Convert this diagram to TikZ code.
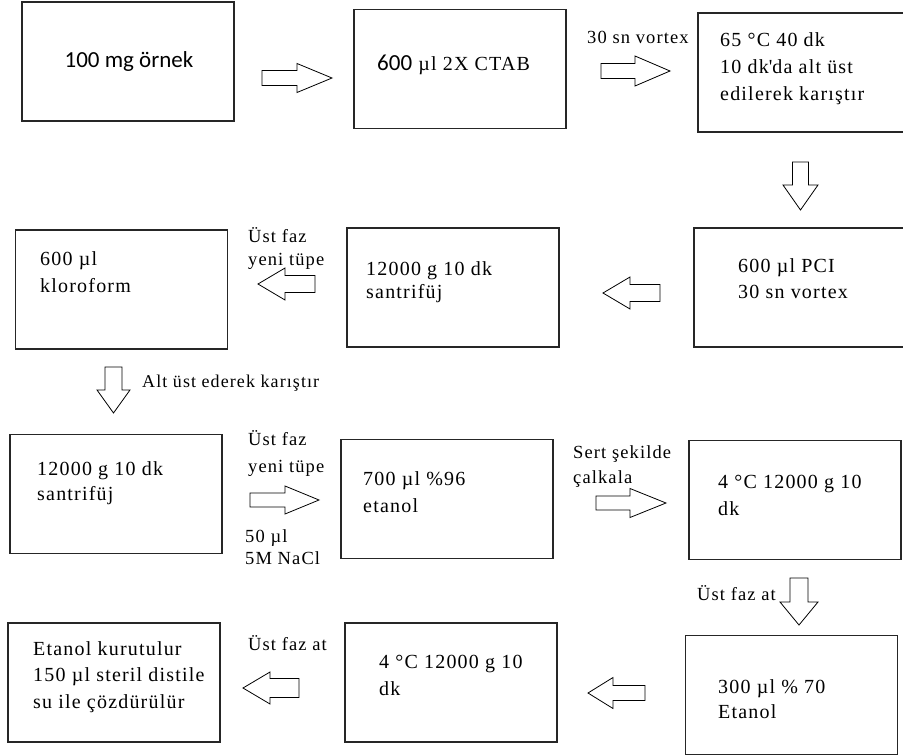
\documentclass[tikz,border=0pt]{standalone}
\usepackage{fontspec}
\setmainfont{Liberation Serif}[LetterSpace=6]
\newfontfamily\calibrifont{Carlito}

\tikzset{
  stepbox/.style={draw=black!85, line width=1.2pt, minimum width=212pt, minimum height=119pt, inner sep=0pt},
  boxtext/.style={anchor=base west, align=left, inner sep=0pt, font=\fontsize{20}{27}\selectfont},
  sidelabel/.style={anchor=base west, align=left, inner sep=0pt, font=\fontsize{18.5}{23}\selectfont},
  % block arrow: length, half shaft, half head, head length
  pics/blockarrow/.style n args={4}{code={
    \draw[line width=0.8pt, fill=white] (0,-#2) -- (#1-#4,-#2) -- (#1-#4,-#3) -- (#1,0)
      -- (#1-#4,#3) -- (#1-#4,#2) -- (0,#2) -- cycle;
  }},
}

\begin{document}
\begin{tikzpicture}[x=1pt, y=-1pt]

  \useasboundingbox (0,0) rectangle (903,755);

  % -- Row 1 --
  \node[stepbox] (ornek) at (128,61.5) {};
  \node[anchor=base, inner sep=0pt, font=\calibrifont\fontsize{23}{27}\selectfont] (ornektext) at (129,67) {100 mg örnek};
  \node[stepbox] (ctab) at (460,69) {};
  \node[boxtext] (ctabtext) at (377,70) {{\calibrifont\fontsize{23}{27}\selectfont 600} µl 2X CTAB};
  \node[stepbox] (inkub) at (804,72.5) {};
  \node[boxtext] (inkubtext) at (720,100) {65 °C 40 dk\\10 dk\textquotesingle da alt üst\\edilerek karıştır};

  \pic (a1) at (262,78) {blockarrow={70}{7.5}{14.5}{35}};
  \pic (a2) at (601,71) {blockarrow={69}{7.5}{15}{35}};
  \node[sidelabel] (vortex) at (587,43) {30 sn vortex};
  \pic[rotate=-90] (a3) at (800.5,162) {blockarrow={48}{8}{17.5}{25}};

  % -- Row 2 --
  \node[stepbox] (pci) at (800,287.5) {};
  \node[boxtext] (pcitext) at (738,298) {600 µl PCI\\[-1pt]30 sn vortex};
  \node[stepbox] (santri) at (453,287.5) {};
  \node[boxtext] (santritext) at (366,298) {12000 g 10 dk\\[-4pt]santrifüj};
  \node[stepbox] (kloro) at (121.5,289.5) {};
  \node[boxtext] (klorotext) at (40,292) {600 µl\\kloroform};

  \pic[rotate=180] (a4) at (660,293) {blockarrow={57}{8.5}{16}{27}};
  \pic[rotate=180] (a5) at (315,284) {blockarrow={57}{8.5}{16}{27}};
  \node[sidelabel] (ustfaz) at (248,265) {Üst faz\\yeni tüpe};
  \pic[rotate=-90] (a6) at (113.5,367) {blockarrow={46}{8.5}{16.5}{23}};
  \node[sidelabel, font=\fontsize{18}{23}\selectfont] (altust) at (142,387) {Alt üst ederek karıştır};

  % -- Row 3 --
  \node[stepbox] (santrib) at (116,494) {};
  \node[boxtext] (santribtext) at (37,500) {12000 g 10 dk\\[-2pt]santrifüj};
  \node[stepbox] (etanol) at (447,499) {};
  \node[boxtext] (etanoltext) at (363,512) {700 µl \%96\\etanol};
  \node[stepbox] (soguk) at (795,500) {};
  \node[boxtext] (soguktext) at (718,515) {4 °C 12000 g 10\\dk};

  \pic (a7) at (250,500) {blockarrow={69}{7}{14}{34}};
  \node[sidelabel] (ustfazb) at (248,472) {Üst faz\\[4pt]yeni tüpe};
  \node[sidelabel] (nacl) at (245,564) {50 µl\\[-1pt]5M NaCl};
  \pic (a8) at (596,503) {blockarrow={70}{7}{14.5}{36}};
  \node[sidelabel] (sert) at (573,483) {Sert şekilde\\[2pt]çalkala};
  \pic[rotate=-90] (a9) at (799,578) {blockarrow={47}{9}{19}{23}};
  \node[sidelabel] (ustfazat) at (697,600) {Üst faz at};

  % -- Row 4 --
  \node[stepbox] (yikama) at (791.5,695) {};
  \node[boxtext] (yikamatext) at (718,718) {300 µl \% 70\\[-2pt]Etanol};
  \node[stepbox] (sogukb) at (451,682.5) {};
  \node[boxtext] (sogukbtext) at (379,695) {4 °C 12000 g 10\\dk};
  \node[stepbox] (cozme) at (114,682.5) {};
  \node[boxtext] (cozmetext) at (33,708) {Etanol kurutulur\\[-0.5pt]150 µl steril distile\\[-0.5pt]su ile çözdürülür};

  \pic[rotate=180] (a10) at (645,693) {blockarrow={57}{7.5}{15.5}{25}};
  \pic[rotate=180] (a11) at (299,688) {blockarrow={56}{9.5}{16}{27}};
  \node[sidelabel] (ustfazatb) at (248,650) {Üst faz at};

\end{tikzpicture}
\end{document}
